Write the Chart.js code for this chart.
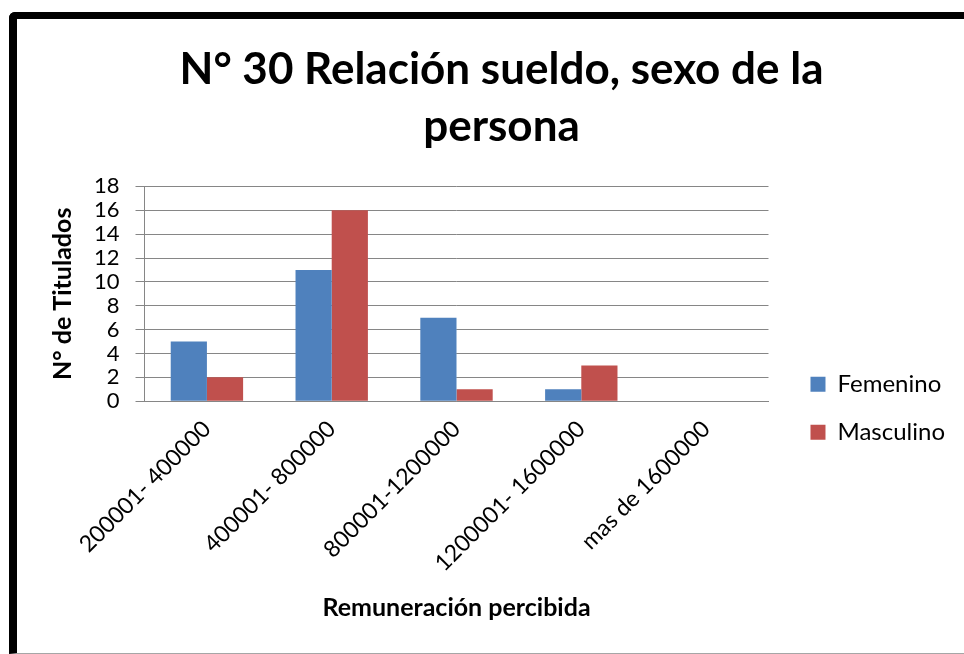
<!DOCTYPE html>
<html>
<head>
<meta charset="utf-8">
<script src="https://cdn.jsdelivr.net/npm/chart.js@4"></script>
<style>
  html, body { margin: 0; padding: 0; background: #fff; }
  #frame {
    position: absolute;
    left: 9px; top: 12px;
    width: 947px; height: 634px;
    border-left: 8px solid #000;
    border-top: 7px solid #000;
    border-top-left-radius: 6px;
    border-bottom: 1px solid #a6a6a6;
    background: #fff;
  }
  #chartBox { position: absolute; left: 0; top: 0; width: 947px; height: 634px; }
</style>
</head>
<body>
<div id="frame"><div id="chartBox"><canvas id="salaryChart"></canvas></div></div>
<script>
// datos del gráfico
const categories = ['200001- 400000', '400001- 800000', '800001-1200000', '1200001- 1600000', 'mas de 1600000'];
const femenino = [5, 11, 7, 1, 0];
const masculino = [2, 16, 1, 3, 0];
const yTicks = [0, 2, 4, 6, 8, 10, 12, 14, 16, 18];

const FONT = 'Lato, "Liberation Sans", sans-serif';
const gridGray = '#868686';

let ctx = document.getElementById('salaryChart').getContext('2d');
new Chart(ctx, {
    type: 'bar',
    data: {
        labels: categories,
        datasets: [
            {
                label: 'Femenino',
                data: femenino,
                backgroundColor: '#4f81bd',
                borderWidth: 0,
            },
            {
                label: 'Masculino',
                data: masculino,
                backgroundColor: '#c0504d',
                borderWidth: 0,
            },
        ]
    },
    options: {
        responsive: true,
        maintainAspectRatio: false,
        animation: false,
        datasets: {
            bar: { categoryPercentage: 0.58, barPercentage: 1 }
        },
        layout: { padding: { left: 31, right: 9, top: 0, bottom: 26 } },
        scales: {
            x: {
                grid: { display: false },
                border: { display: true, color: gridGray, width: 1 },
                ticks: {
                    color: '#000',
                    font: { family: FONT, size: 23 },
                    maxRotation: 45,
                    minRotation: 45,
                    padding: 6
                },
                title: {
                    display: true,
                    text: 'Remuneración percibida',
                    color: '#000',
                    font: { family: FONT, size: 25, weight: 'bold' },
                    padding: { top: 10 }
                }
            },
            y: {
                min: 0,
                max: 18,
                afterBuildTicks: (axis) => { axis.ticks = yTicks.map(v => ({ value: v })); },
                grid: { color: gridGray, lineWidth: 1, tickLength: 9 },
                border: { display: true, color: gridGray, width: 1 },
                ticks: {
                    color: '#000',
                    font: { family: FONT, size: 22 },
                    padding: 16,
                    autoSkip: false
                },
                title: {
                    display: true,
                    text: 'N° de Titulados',
                    color: '#000',
                    font: { family: FONT, size: 25, weight: 'bold' },
                    padding: { top: 0, bottom: 0 }
                }
            },
            // espacio vacío entre el gráfico y la leyenda
            gap: {
                type: 'linear',
                position: 'right',
                display: true,
                grid: { display: false, drawTicks: false },
                border: { display: false },
                ticks: { display: true, color: 'rgba(0,0,0,0)', padding: 9, callback: () => '' }
            }
        },
        plugins: {
            title: {
                display: true,
                text: ['N° 30 Relación sueldo, sexo de la', 'persona'],
                color: '#000',
                font: { family: FONT, size: 44, weight: 'bold', lineHeight: 1.3 },
                padding: { top: 22, bottom: 31 }
            },
            legend: {
                display: true,
                position: 'right',
                maxWidth: 200,
                title: { display: true, text: ' ', font: { size: 2 }, padding: { top: 168 } },
                labels: {
                    color: '#000',
                    font: { family: FONT, size: 24 },
                    boxWidth: 15,
                    boxHeight: 15,
                    padding: 24
                }
            },
            tooltip: { enabled: false }
        }
    }
});
</script>
</body>
</html>
